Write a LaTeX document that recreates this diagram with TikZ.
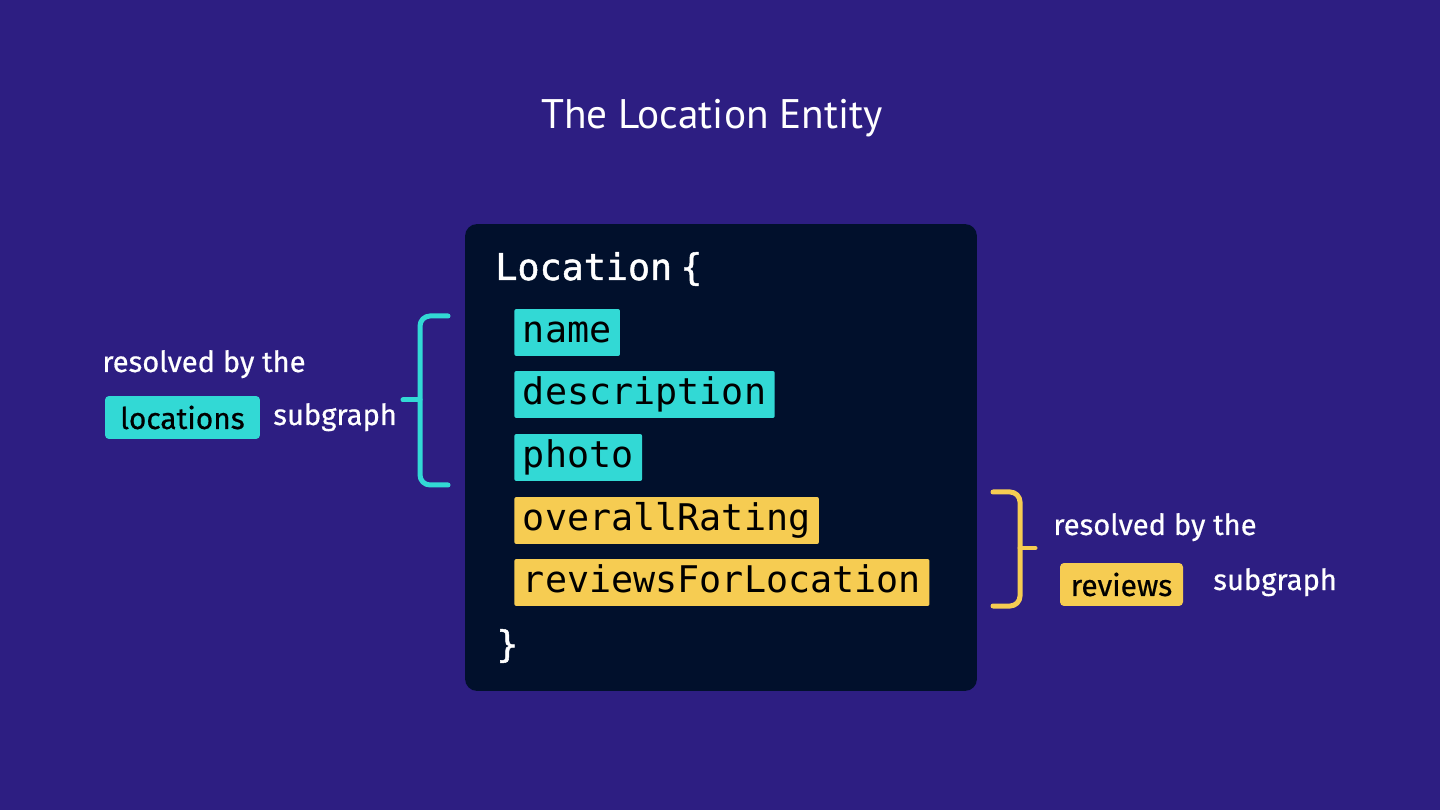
\documentclass[tikz,border=0pt]{standalone}
\usepackage{fontspec}
\usepackage{xcolor}
\usepackage{tikz}
\usetikzlibrary{positioning}

\setmainfont{PT Sans}
\newfontfamily\codefont{DejaVu Sans Mono}
\newfontfamily\codefontmed[FakeBold=1.3]{DejaVu Sans Mono}
\newfontfamily\notefont[FakeBold=0.6]{Fira Sans}

\definecolor{bgpurple}{RGB}{45,30,130}
\definecolor{panelnavy}{RGB}{1,16,44}
\definecolor{fieldteal}{RGB}{50,217,213}
\definecolor{fieldyellow}{RGB}{246,204,82}

\tikzset{
  field/.style={anchor=west, text=black, rounded corners=0.04cm, inner xsep=0.172cm, inner ysep=0pt,
    text height=0.68cm, text depth=0.26cm, font=\fontsize{20.9}{24}\codefont},
  code/.style={anchor=base west, text=white, inner sep=0pt, font=\fontsize{20.9}{24}\codefontmed},
  note/.style={anchor=base west, text=white, inner sep=0pt, font=\fontsize{16.6}{20}\notefont},
  pill/.style={text=black, rounded corners=0.08cm, minimum height=0.86cm, font=\fontsize{17}{20}\notefont},
  bracket/.style={line width=0.1cm, rounded corners=0.2cm, line cap=round}
}

\begin{document}
\begin{tikzpicture}[x=0.02cm,y=-0.02cm]
\fill[bgpurple] (0,0) rectangle (1440,810);
\useasboundingbox (0,0) rectangle (1440,810);

\node (title) [anchor=base, text=white, font=\fontsize{23.5}{28}\selectfont] at (712,129) {The Location Entity};

\node (panel) [fill=panelnavy, rounded corners=0.24cm, minimum width=10.24cm, minimum height=9.34cm] at (721,457.5) {};

\node (open) [code] at (495,280) {Location\kern0.22em\{};
\node (name) [field, fill=fieldteal] at (514,332.5) {name};
\node (description) [field, fill=fieldteal] at (514,394.5) {description};
\node (photo) [field, fill=fieldteal] at (514,457.5) {photo};
\node (rating) [field, fill=fieldyellow] at (514,520.5) {overallRating};
\node (reviewsfield) [field, fill=fieldyellow] at (514,582.5) {reviewsForLocation};
\node (close) [code] at (496,657) {\}};

% left bracket
\draw[bracket, fieldteal] (448,316) -- (420,316) -- (420,485) -- (448,485);
\draw[line width=0.1cm, line cap=round, fieldteal] (403,400) -- (420,400);

\node (lres) [note] at (102,372) {resolved by the};
\node (lsub) [pill, fill=fieldteal, minimum width=3.1cm] at (182.5,417.5) {locations};
\node (lgraph) [note] at (273,425) {subgraph};

% right bracket
\draw[bracket, fieldyellow] (993,492) -- (1020,492) -- (1020,606) -- (993,606);
\draw[line width=0.1cm, line cap=round, fieldyellow] (1020,548) -- (1035,548);

\node (rres) [note] at (1053,535) {resolved by the};
\node (rsub) [pill, fill=fieldyellow, minimum width=2.46cm] at (1121.5,584.5) {reviews};
\node (rgraph) [note] at (1213,590) {subgraph};
\end{tikzpicture}
\end{document}
